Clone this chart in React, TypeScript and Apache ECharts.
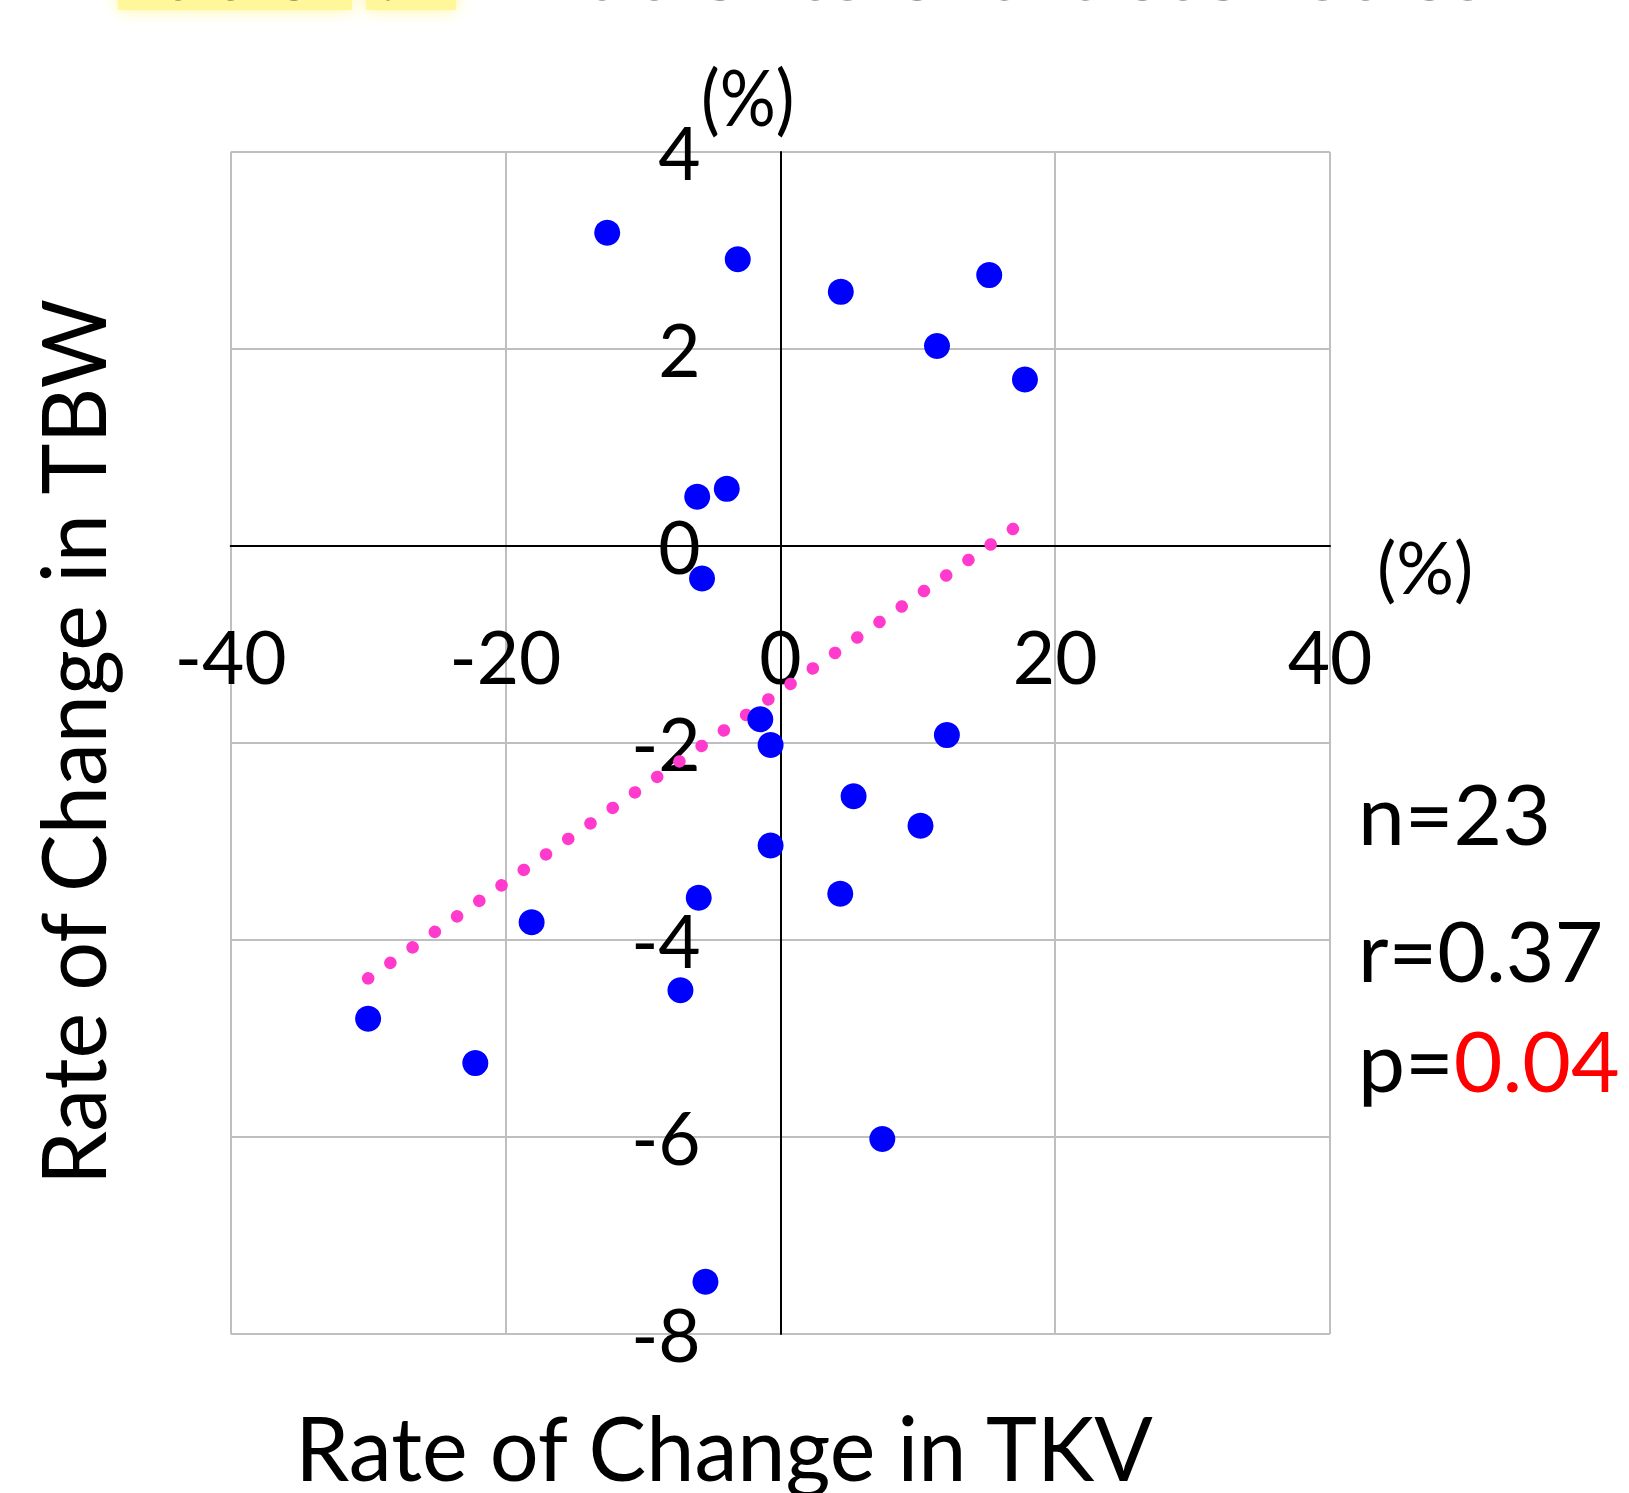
import React, { useEffect, useRef } from "react";
import * as echarts from "echarts";

const xTicks = [-40, -20, 0, 20, 40];
const yTicks = [4, 2, 0, -2, -4, -6, -8];

const tkvChange = [
  -12.6, -3.1, 4.4, 15.2, 11.4, 17.8, -6.05, -3.9, -5.7, -1.46, -0.71, 12.12,
  5.33, 10.2, -0.71, -5.94, 4.36, -18.1, -7.27, -30.0, -22.2, 7.42, -5.45,
];
const tbwChange = [
  3.18, 2.91, 2.58, 2.75, 2.03, 1.69, 0.5, 0.58, -0.33, -1.76, -2.02, -1.92,
  -2.54, -2.84, -3.04, -3.57, -3.53, -3.82, -4.51, -4.8, -5.25, -6.02, -7.47,
];

const trendX = [-30.0, 17.0];
const trendY = [-4.39, 0.18];

const statN = "n=23";
const statR = "r=0.37";
const statPLabel = "p=";
const statPValue = "0.04";

const FONT = "Lato, 'Open Sans', sans-serif";

export default function App() {
  const ref = useRef<HTMLDivElement>(null);

  useEffect(() => {
    if (!ref.current) return;
    const chart = echarts.init(ref.current, undefined, { renderer: "svg" });
    const points = tkvChange.map((x, i) => [x, tbwChange[i]]);
    const trend = trendX.map((x, i) => [x, trendY[i]]);

    chart.setOption({
      animation: false,
      backgroundColor: "#ffffff",
      grid: { left: 230.7, right: 299, top: 152, bottom: 159, containLabel: false },
      xAxis: {
        type: "value",
        min: xTicks[0],
        max: xTicks[xTicks.length - 1],
        interval: 20,
        axisLine: { show: true, onZero: true, lineStyle: { color: "#000", width: 2 } },
        axisTick: { show: false },
        splitLine: { show: true, lineStyle: { color: "#BFBFBF", width: 2 } },
        axisLabel: {
          fontSize: 73,
          fontFamily: FONT,
          color: "#000",
          margin: -715,
          showMinLabel: true,
          showMaxLabel: true,
        },
      },
      yAxis: {
        type: "value",
        min: yTicks[yTicks.length - 1],
        max: yTicks[0],
        interval: 2,
        axisLine: { show: true, onZero: true, lineStyle: { color: "#000", width: 2 } },
        axisTick: { show: false },
        splitLine: { show: true, lineStyle: { color: "#BFBFBF", width: 2 } },
        axisLabel: {
          fontSize: 73,
          fontFamily: FONT,
          color: "#000",
          margin: -470,
          showMinLabel: true,
          showMaxLabel: true,
        },
      },
      series: [
        {
          type: "line",
          data: trend,
          showSymbol: false,
          symbol: "none",
          lineStyle: { color: "#FF3ACD", width: 12.5, type: [0.1, 27], cap: "round" },
          z: 2,
        },
        {
          type: "scatter",
          data: points,
          symbol: "circle",
          symbolSize: 26,
          itemStyle: { color: "#0000FF", opacity: 1 },
          z: 3,
        },
      ],
      graphic: [
        {
          type: "rect",
          shape: { x: 118, y: -20, width: 234, height: 30 },
          style: { fill: "#FFF79A", shadowBlur: 16, shadowColor: "#FFF79A" },
          silent: true,
        },
        {
          type: "rect",
          shape: { x: 366, y: -20, width: 90, height: 30 },
          style: { fill: "#FFF79A", shadowBlur: 16, shadowColor: "#FFF79A" },
          silent: true,
        },
        {
          type: "text",
          x: 125,
          y: -31,
          style: {
            text: "Table 1.",
            fontSize: 80,
            fontWeight: "bold",
            fontFamily: FONT,
            fill: "#404040",
            verticalAlign: "middle",
            align: "left",
          },
          silent: true,
        },
        {
          type: "text",
          x: 530,
          y: -31,
          scaleX: 1.16,
          style: {
            text: "Patients characteristics",
            fontSize: 80,
            fontWeight: "bold",
            fontFamily: FONT,
            fill: "#404040",
            verticalAlign: "middle",
            align: "left",
          },
          silent: true,
        },
        {
          type: "text",
          x: 701,
          y: 58,
          scaleY: 1.1,
          style: { text: "(%)", fontSize: 70, fontFamily: FONT, fill: "#000", align: "left", verticalAlign: "top" },
        },
        {
          type: "text",
          x: 1377,
          y: 530,
          style: { text: "(%)", fontSize: 72, fontFamily: FONT, fill: "#000", align: "left", verticalAlign: "top" },
        },
        {
          type: "text",
          x: 1358,
          y: 812,
          style: { text: statN, fontSize: 84, fontFamily: FONT, fill: "#000", align: "left", verticalAlign: "middle" },
        },
        {
          type: "text",
          x: 1358,
          y: 949,
          style: { text: statR, fontSize: 84, fontFamily: FONT, fill: "#000", align: "left", verticalAlign: "middle" },
        },
        {
          type: "text",
          x: 1358,
          y: 1059,
          style: {
            text: "{a|" + statPLabel + "}{b|" + statPValue + "}",
            fontSize: 84,
            fontFamily: FONT,
            align: "left",
            verticalAlign: "middle",
            rich: {
              a: { fontSize: 84, fontFamily: FONT, fill: "#000", color: "#000" },
              b: { fontSize: 84, fontFamily: FONT, fill: "#FF0000", color: "#FF0000" },
            },
          },
        },
        {
          type: "text",
          x: 724,
          y: 1446,
          scaleX: 0.96,
          style: { text: "Rate of Change in TKV", fontSize: 90, fontFamily: FONT, fill: "#000", align: "center", verticalAlign: "middle" },
        },
        {
          type: "text",
          x: 71,
          y: 742,
          rotation: Math.PI / 2,
          scaleX: 0.96,
          style: { text: "Rate of Change in TBW", fontSize: 90, fontFamily: FONT, fill: "#000", align: "center", verticalAlign: "middle" },
        },
      ],
    });

    return () => chart.dispose();
  }, []);

  return (
    <div
      ref={ref}
      style={{ position: "absolute", left: 0, top: 0, width: 1629, height: 1493 }}
    />
  );
}
